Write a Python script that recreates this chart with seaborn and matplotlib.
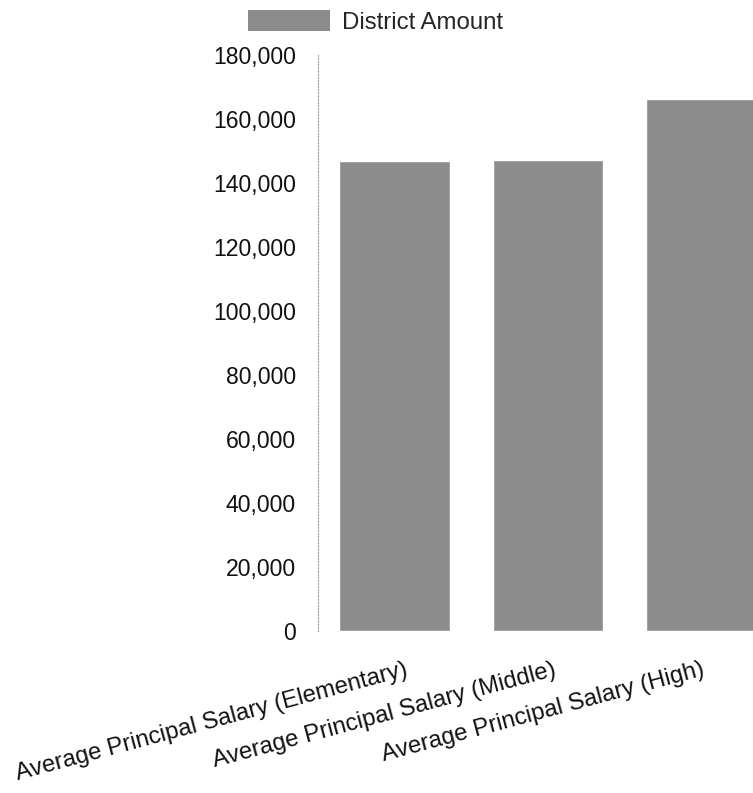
import matplotlib
matplotlib.use("Agg")
import matplotlib.pyplot as plt
import matplotlib.patches as mpatches
import matplotlib.transforms as mtransforms
from matplotlib.ticker import FuncFormatter, MultipleLocator
import seaborn as sns
import pandas as pd

categories = [
    "Average Principal Salary (Elementary)",
    "Average Principal Salary (Middle)",
    "Average Principal Salary (High)",
]
values = [146800, 147100, 166200]
series_name = "District Amount"
bar_color = "#8c8c8c"

df = pd.DataFrame({"category": categories, "value": values, "series": [series_name] * len(categories)})

sns.set_theme(style="white")
plt.rcParams["font.family"] = ["Liberation Sans", "DejaVu Sans"]

fig = plt.figure(figsize=(7.53, 7.93), dpi=100)
ax = fig.add_axes([318 / 753, 1 - 631 / 793, 1 - 318 / 753, (631 - 55) / 793])

sns.barplot(data=df, x="category", y="value", hue="series", palette=[bar_color],
            width=0.72, ax=ax, legend=False, saturation=1)

ax.set_xlim(-0.5, 2.34)
ax.set_ylim(0, 180000)
ax.yaxis.set_major_locator(MultipleLocator(20000))
ax.yaxis.set_major_formatter(FuncFormatter(lambda v, p: f"{int(v):,}"))
ax.set_xlabel("")
ax.set_ylabel("")

for s in ["top", "right", "bottom"]:
    ax.spines[s].set_visible(False)
ax.spines["left"].set_color("#a8a8a8")
ax.spines["left"].set_linestyle((0, (1, 1.5)))
ax.spines["left"].set_linewidth(0.9)

ax.tick_params(axis="y", length=0, pad=16, labelsize=16.6, labelcolor="#111111")
ax.tick_params(axis="x", length=0, pad=20, labelsize=17.2, labelcolor="#111111")

dx_px = [10, 5, 0]
for lab, dx in zip(ax.get_xticklabels(), dx_px):
    lab.set_rotation(15)
    lab.set_ha("right")
    lab.set_va("top")
    lab.set_rotation_mode("anchor")
    lab.set_transform(lab.get_transform() +
                      mtransforms.ScaledTranslation(dx / 100, 0, fig.dpi_scale_trans))

handle = mpatches.Patch(facecolor=bar_color, edgecolor="none", label=series_name)
ax.legend(handles=[handle], loc="center left", bbox_to_anchor=(-0.161, 1.058),
          frameon=False, fontsize=17.3, handlelength=3.4, handleheight=1.0,
          handletextpad=0.5, borderpad=0, borderaxespad=0)

fig.savefig("out.png", dpi=100)
